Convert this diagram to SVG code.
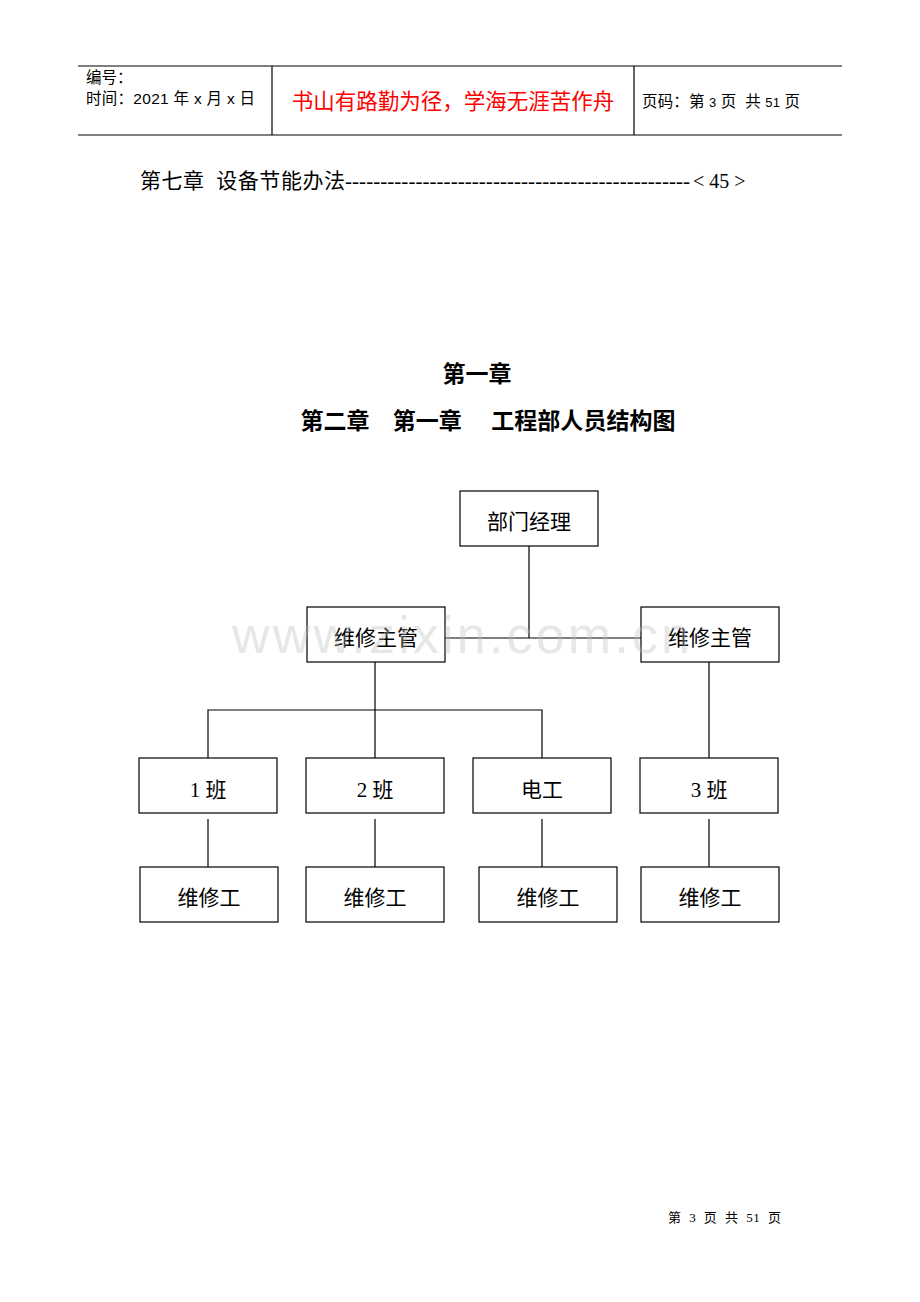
<svg xmlns="http://www.w3.org/2000/svg" width="920" height="1302" viewBox="0 0 920 1302">
<style>
.hd{font-family:"Liberation Sans","Noto Sans CJK SC",sans-serif;font-size:15.5px;fill:#000}
.sr{font-family:"Liberation Serif","Noto Sans CJK SC",serif;fill:#000}
.box rect{fill:#fff;stroke:#000;stroke-width:1.2}
.box text{font-family:"Liberation Serif","Noto Sans CJK SC",serif;font-size:21px;text-anchor:middle;fill:#000}
.ln{stroke:#000;stroke-width:1.2;fill:none}
.tt{font-family:"Liberation Sans","Noto Sans CJK SC",sans-serif;font-weight:bold;font-size:23px;text-anchor:middle}
</style>
<rect width="920" height="1302" fill="#fff"/>
<g id="header">
<line class="ln" x1="78" y1="66" x2="842" y2="66"/>
<line class="ln" x1="78" y1="135" x2="842" y2="135"/>
<line class="ln" x1="272" y1="66" x2="272" y2="135" stroke="#666"/>
<line class="ln" x1="634" y1="66" x2="634" y2="135" stroke="#666"/>
<text class="hd" x="86" y="83">编号：</text>
<text class="hd" x="86" y="104" textLength="169" xml:space="preserve">时间：2021 年 x 月 x 日</text>
<text x="453" y="109" text-anchor="middle" font-family="Liberation Sans,Noto Sans CJK SC,sans-serif" font-size="21.5" fill="#ff0000">书山有路勤为径，学海无涯苦作舟</text>
<text class="hd" x="642" y="107" textLength="158" xml:space="preserve">页码：第 <tspan font-size="13">3</tspan> 页  共 <tspan font-size="13">51</tspan> 页</text>
</g>
<g id="toc">
<text class="sr" x="140" y="188" font-size="21" textLength="205" xml:space="preserve">第七章  设备节能办法</text>
<text class="sr" x="345" y="188" font-size="21" textLength="345">-------------------------------------------------</text>
<text class="sr" x="693" y="188" font-size="20" xml:space="preserve">&lt; 45 &gt;</text>
</g>
<text class="tt" x="477" y="382">第一章</text>
<text class="tt" x="488" y="429" textLength="375" xml:space="preserve">第二章　第一章　 工程部人员结构图</text>
<g id="connectors">
<path class="ln" d="M529 546V638M445 638H641"/>
<path class="ln" d="M375 662V758M208 758V710H542V758"/>
<path class="ln" d="M709 662V758"/>
<path class="ln" d="M208 819V867M375 819V867M542 819V867M709 819V867"/>
</g>
<g id="n_mgr" class="box"><rect x="460" y="491" width="138" height="55"/><text x="529" y="529">部门经理</text></g>
<g id="n_sup1" class="box"><rect x="307" y="607" width="138" height="55"/><text x="376" y="645">维修主管</text></g>
<g id="n_sup2" class="box"><rect x="641" y="607" width="138" height="55"/><text x="710" y="645">维修主管</text></g>
<g id="n_b1" class="box"><rect x="139" y="758" width="138" height="55"/><text x="208" y="797">1 班</text></g>
<g id="n_b2" class="box"><rect x="306" y="758" width="138" height="55"/><text x="375" y="797">2 班</text></g>
<g id="n_el" class="box"><rect x="473" y="758" width="138" height="55"/><text x="542" y="797">电工</text></g>
<g id="n_b3" class="box"><rect x="640" y="758" width="138" height="55"/><text x="709" y="797">3 班</text></g>
<g id="n_w1" class="box"><rect x="140" y="867" width="138" height="55"/><text x="209" y="905">维修工</text></g>
<g id="n_w2" class="box"><rect x="306" y="867" width="138" height="55"/><text x="375" y="905">维修工</text></g>
<g id="n_w3" class="box"><rect x="479" y="867" width="138" height="55"/><text x="548" y="905">维修工</text></g>
<g id="n_w4" class="box"><rect x="641" y="867" width="138" height="55"/><text x="710" y="905">维修工</text></g>
<text x="232" y="653" textLength="458" font-family="Liberation Sans,sans-serif" font-size="52" fill="#bbb" opacity="0.35">www.zixin.com.cn</text>
<text x="668" y="1222" textLength="113" font-family="Liberation Serif,Noto Sans CJK SC,serif" font-size="13" xml:space="preserve">第  3  页  共  51  页</text>
</svg>
